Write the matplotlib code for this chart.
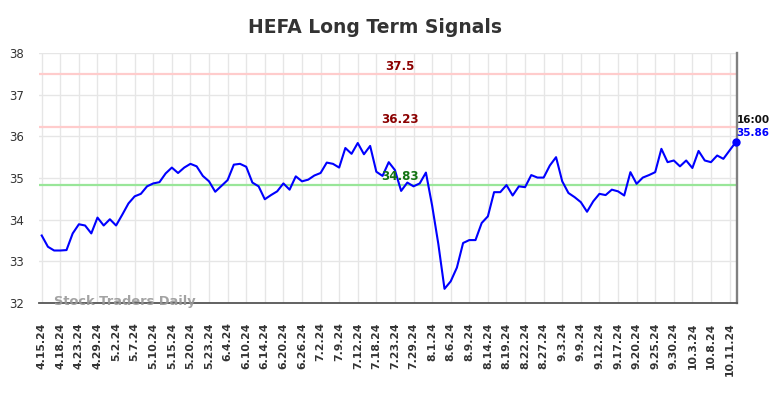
import matplotlib
matplotlib.use("Agg")
import matplotlib.pyplot as plt
import numpy as np

tick_labels = ["4.15.24", "4.18.24", "4.23.24", "4.29.24", "5.2.24", "5.7.24", "5.10.24",
               "5.15.24", "5.20.24", "5.23.24", "6.4.24", "6.10.24", "6.14.24", "6.20.24",
               "6.26.24", "7.2.24", "7.9.24", "7.12.24", "7.18.24", "7.23.24", "7.29.24",
               "8.1.24", "8.6.24", "8.9.24", "8.14.24", "8.19.24", "8.22.24", "8.27.24",
               "9.3.24", "9.9.24", "9.12.24", "9.17.24", "9.20.24", "9.25.24", "9.30.24",
               "10.3.24", "10.8.24", "10.11.24"]

prices = [33.62, 33.35, 33.26, 33.26, 33.27, 33.67, 33.89, 33.86, 33.67, 34.05,
          33.86, 34.01, 33.86, 34.12, 34.39, 34.56, 34.62, 34.80, 34.87, 34.90,
          35.11, 35.25, 35.12, 35.25, 35.34, 35.28, 35.05, 34.92, 34.67, 34.81,
          34.95, 35.32, 35.34, 35.27, 34.89, 34.80, 34.49, 34.59, 34.68, 34.87,
          34.72, 35.04, 34.92, 34.96, 35.06, 35.12, 35.37, 35.34, 35.25, 35.72,
          35.58, 35.84, 35.57, 35.77, 35.15, 35.05, 35.38, 35.19, 34.69, 34.89,
          34.80, 34.87, 35.13, 34.34, 33.42, 32.34, 32.52, 32.85, 33.44, 33.51,
          33.51, 33.92, 34.08, 34.66, 34.66, 34.83, 34.58, 34.80, 34.78, 35.07,
          35.01, 35.01, 35.30, 35.50, 34.92, 34.64, 34.54, 34.42, 34.19, 34.44,
          34.62, 34.59, 34.72, 34.68, 34.58, 35.14, 34.86, 35.01, 35.07, 35.14,
          35.70, 35.38, 35.42, 35.28, 35.42, 35.24, 35.65, 35.42, 35.38, 35.54,
          35.46, 35.66, 35.86]

resistance_levels = [37.5, 36.23]
support_level = 34.83
last_time = "16:00"
last_price = 35.86
title = "HEFA Long Term Signals"
watermark = "Stock Traders Daily"

W, H = 784, 398
fig = plt.figure(figsize=(W / 100, H / 100), dpi=100)
ax = fig.add_axes([39.3 / W, 1 - 303 / H, 698 / W, 250 / H])

x = np.arange(len(prices))
tick_pos = np.arange(0, len(tick_labels) * 3, 3)

ax.set_xlim(-0.39, 112.25)
ax.set_ylim(32, 38)
ax.set_yticks(np.arange(32, 39, 1))
ax.set_xticks(tick_pos)
ax.set_xticklabels(tick_labels, rotation=90, fontsize=7.8, fontweight="bold", color="#333333")
ax.tick_params(axis="x", length=0, pad=14)
ax.tick_params(axis="y", length=0, pad=11, labelsize=8.5, labelcolor="#333333")
ax.grid(True, color="#e6e6e6", linewidth=1, zorder=0)
ax.set_axisbelow(True)

for s in ["top", "left"]:
    ax.spines[s].set_visible(False)
ax.spines["bottom"].set_color("#555555")
ax.spines["bottom"].set_linewidth(1.3)
ax.spines["right"].set_color("#808080")
ax.spines["right"].set_linewidth(1.7)

for lvl in resistance_levels:
    ax.axhline(lvl, color="#ffcccc", linewidth=1.6, zorder=1)
    ax.annotate(f"{lvl:g}", xy=(57.8, lvl), xytext=(0, 2.8), textcoords="offset points",
                ha="center", va="baseline", fontsize=8.6, fontweight="bold", color="#8b0000")
ax.axhline(support_level, color="#99e699", linewidth=1.6, zorder=1)
ax.annotate(f"{support_level:g}", xy=(57.8, support_level), xytext=(0, 3.5),
            textcoords="offset points", ha="center", va="baseline", fontsize=8.6,
            fontweight="bold", color="#137313", zorder=5)

ax.plot(x, prices, color="#0000ff", linewidth=1.5, zorder=3)
ax.plot([x[-1]], [prices[-1]], "o", color="#0000ff", markersize=5, zorder=4, clip_on=False)

ax.annotate(last_time, xy=(x[-1], last_price), xytext=(0.5, 14), textcoords="offset points",
            ha="left", va="baseline", fontsize=7.5, fontweight="bold", color="#111111",
            annotation_clip=False)
ax.annotate(f"{last_price:.2f}", xy=(x[-1], last_price), xytext=(0.5, 4.7),
            textcoords="offset points", ha="left", va="baseline", fontsize=7.5,
            fontweight="bold", color="#0000ff", annotation_clip=False)

fig.text(375 / W, 1 - 32.7 / H, title, ha="center", va="baseline", fontsize=13.5,
         fontweight="bold", color="#333333")
fig.text(54 / W, 1 - 304.5 / H, watermark, ha="left", va="baseline", fontsize=9.4,
         fontweight="bold", color="#999999", alpha=0.9)

fig.savefig("out.png", dpi=100)
